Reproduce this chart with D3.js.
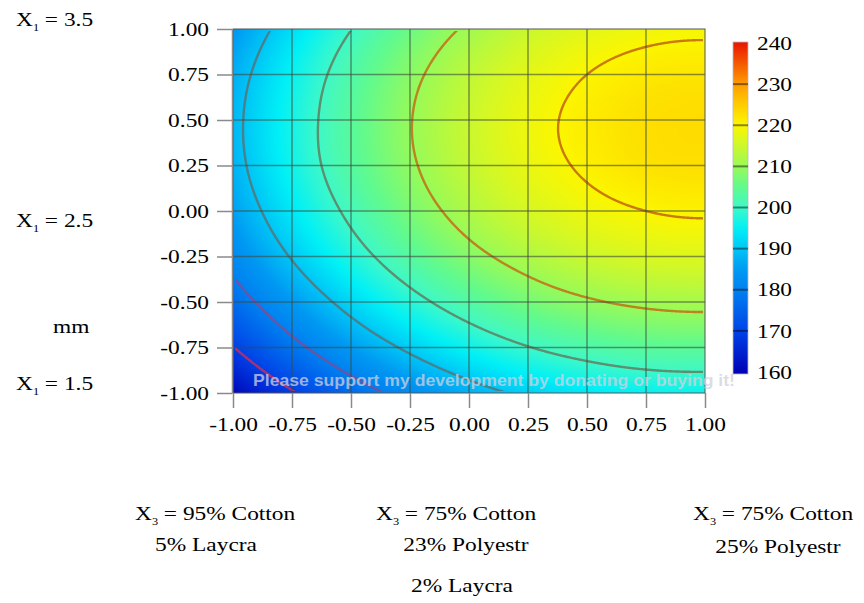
<!DOCTYPE html>
<html>
<head>
<meta charset="utf-8">
<title>Contour</title>
<script src="https://cdn.jsdelivr.net/npm/d3@7/dist/d3.min.js"></script>
<style>
    body { margin: 0; background: #fff; }
    svg text { font-family: "Liberation Serif", "Times New Roman", serif; }
</style>
</head>
<body>
<script>
    // values read at the grid intersections, rows from y = 1.00 (top) to y = -1.00
    var xTicks = [-1, -0.75, -0.5, -0.25, 0, 0.25, 0.5, 0.75, 1];
    var yTicks = [1, 0.75, 0.5, 0.25, 0, -0.25, -0.5, -0.75, -1];
    var zRows = [
        [184.6, 192.8, 199.9, 205.9, 210.8, 214.6, 217.2, 218.7, 219.2],
        [187.4, 195.6, 202.7, 208.7, 213.6, 217.3, 220.0, 221.5, 221.9],
        [188.5, 196.7, 203.8, 209.8, 214.7, 218.5, 221.1, 222.6, 223.1],
        [188.0, 196.3, 203.4, 209.3, 214.2, 218.0, 220.6, 222.2, 222.6],
        [185.9, 194.1, 201.2, 207.2, 212.1, 215.9, 218.5, 220.0, 220.5],
        [182.2, 190.4, 197.5, 203.5, 208.4, 212.1, 214.8, 216.3, 216.7],
        [176.8, 185.0, 192.1, 198.1, 203.0, 206.8, 209.4, 210.9, 211.4],
        [169.8, 178.1, 185.2, 191.1, 196.0, 199.8, 202.4, 204.0, 204.4],
        [161.2, 169.4, 176.5, 182.5, 187.4, 191.2, 193.8, 195.3, 195.8]
    ];
    var contourLevels = [170, 180, 190, 200, 210, 220];
    var contourColors = ["#b8306a", "#74509c", "#4f7a82", "#5f8566", "#c0761c", "#c46c10"];
    var colorTicks = [160, 170, 180, 190, 200, 210, 220, 230, 240];

    var width = 864, height = 603;
    var plotL = 233, plotR = 705, plotT = 29, plotB = 393;
    var pw = plotR - plotL, ph = plotB - plotT;
    var stretch = 1.23; // the source picture is a little wider than tall in its lettering

    var svg = d3.select("body").append("svg")
        .attr("width", width)
        .attr("height", height);

    var x = d3.scaleLinear().domain([-1, 1]).range([plotL, plotR]);
    var y = d3.scaleLinear().domain([-1, 1]).range([plotB, plotT]);

    var color = d3.scaleLinear()
        .domain([160, 170, 180, 185, 190, 195, 200, 205, 210, 215, 220, 225, 230, 240])
        .range(["#0000b4", "#0040e6", "#0080f0", "#0098f2", "#00c4f6", "#00f0f6", "#3ef8c8", "#60fa8e",
                "#98fa58", "#ccf82c", "#fcf600", "#ffcc00", "#ff9a00", "#e81400"])
        .clamp(true);

    // smooth (Catmull-Rom) fill of the plot pixels from the grid
    var nx = xTicks.length, ny = yTicks.length;
    var E = [];
    for (var r = 0; r < ny + 2; r++) E.push(new Array(nx + 2));
    for (var r = 0; r < ny; r++) for (var c = 0; c < nx; c++) E[r + 1][c + 1] = zRows[r][c];
    for (var c = 1; c <= nx; c++) {
        E[0][c] = 3 * E[1][c] - 3 * E[2][c] + E[3][c];
        E[ny + 1][c] = 3 * E[ny][c] - 3 * E[ny - 1][c] + E[ny - 2][c];
    }
    for (var r = 0; r < ny + 2; r++) {
        E[r][0] = 3 * E[r][1] - 3 * E[r][2] + E[r][3];
        E[r][nx + 1] = 3 * E[r][nx] - 3 * E[r][nx - 1] + E[r][nx - 2];
    }
    function cr(t) {
        var t2 = t * t, t3 = t2 * t;
        return [(-t + 2 * t2 - t3) / 2, (2 - 5 * t2 + 3 * t3) / 2, (t + 4 * t2 - 3 * t3) / 2, (t3 - t2) / 2];
    }

    var step = xTicks[1] - xTicks[0];
    var canvas = document.createElement("canvas");
    canvas.width = pw; canvas.height = ph;
    var ctx = canvas.getContext("2d");
    var img = ctx.createImageData(pw, ph);
    var values = new Float64Array(pw * ph);
    for (var j = 0; j < ph; j++) {
        var v = (yTicks[0] - y.invert(plotT + j + 0.5)) / step;
        var j0 = Math.max(0, Math.min(ny - 2, Math.floor(v)));
        var wy = cr(v - j0);
        for (var i = 0; i < pw; i++) {
            var u = (x.invert(plotL + i + 0.5) - xTicks[0]) / step;
            var i0 = Math.max(0, Math.min(nx - 2, Math.floor(u)));
            var wx = cr(u - i0);
            var z = 0;
            for (var a = 0; a < 4; a++) {
                var row = E[j0 + a];
                z += wy[a] * (wx[0] * row[i0] + wx[1] * row[i0 + 1] + wx[2] * row[i0 + 2] + wx[3] * row[i0 + 3]);
            }
            values[j * pw + i] = z;
            var col = d3.rgb(color(z));
            var k = 4 * (j * pw + i);
            img.data[k] = col.r; img.data[k + 1] = col.g; img.data[k + 2] = col.b; img.data[k + 3] = 255;
        }
    }
    ctx.putImageData(img, 0, 0);

    svg.append("image")
        .attr("x", plotL).attr("y", plotT)
        .attr("width", pw).attr("height", ph)
        .attr("preserveAspectRatio", "none")
        .attr("href", canvas.toDataURL());

    svg.append("clipPath").attr("id", "inner")
        .append("rect")
        .attr("x", 2).attr("y", 2)
        .attr("width", pw - 4).attr("height", ph - 4);

    var contours = d3.contours().size([pw, ph]).thresholds(contourLevels)(values);
    svg.append("g")
        .attr("transform", "translate(" + plotL + "," + plotT + ")")
        .attr("clip-path", "url(#inner)")
        .selectAll("path")
        .data(contours).enter()
        .append("path")
        .attr("d", d3.geoPath())
        .attr("fill", "none")
        .attr("stroke", function (d) { return contourColors[contourLevels.indexOf(d.value)]; })
        .attr("stroke-width", 2.4)
        .attr("stroke-opacity", 0.9);

    // grid
    var grid = svg.append("g")
        .attr("stroke", "#3e4a3e")
        .attr("stroke-opacity", 0.6)
        .attr("stroke-width", 1.5);
    grid.selectAll(".vx").data(xTicks.slice(1, -1)).enter().append("line")
        .attr("x1", function (d) { return x(d); }).attr("x2", function (d) { return x(d); })
        .attr("y1", plotT).attr("y2", plotB);
    grid.selectAll(".hy").data(yTicks.slice(1, -1)).enter().append("line")
        .attr("y1", function (d) { return y(d); }).attr("y2", function (d) { return y(d); })
        .attr("x1", plotL).attr("x2", plotR);

    svg.append("rect")
        .attr("x", plotL).attr("y", plotT)
        .attr("width", pw).attr("height", ph)
        .attr("fill", "none")
        .attr("stroke", "#555")
        .attr("stroke-width", 1);

    // watermark
    svg.append("text")
        .attr("class", "wm")
        .attr("x", 253).attr("y", 386)
        .attr("textLength", 482)
        .attr("lengthAdjust", "spacingAndGlyphs")
        .style("font-family", "'Liberation Sans', Arial, sans-serif")
        .style("font-weight", "bold")
        .style("font-size", "17px")
        .attr("fill", "#d0d0e0")
        .attr("fill-opacity", 0.75)
        .text("Please support my development by donating or buying it!");

    // axes
    var fmt = d3.formatLocale({ decimal: ".", thousands: ",", grouping: [3], currency: ["", ""], minus: "-" }).format(".2f");
    var yAxis = svg.append("g")
        .attr("transform", "translate(" + (plotL - 1) + ",0)")
        .call(d3.axisLeft(y).tickValues(yTicks).tickFormat(fmt).tickSize(15).tickPadding(8).tickSizeOuter(0));
    var xAxis = svg.append("g")
        .attr("transform", "translate(0," + plotB + ")")
        .call(d3.axisBottom(x).tickValues(xTicks).tickFormat(fmt).tickSize(15).tickPadding(10).tickSizeOuter(0));
    xAxis.select(".domain").remove();
    [xAxis, yAxis].forEach(function (a) {
        a.attr("font-family", null).attr("font-size", null);
        a.selectAll("line, .domain").attr("stroke", "#8a8a8a").attr("stroke-width", 1.5);
        a.selectAll("text").style("font-size", "19px").attr("fill", "#000");
    });

    // colour bar
    var cy = d3.scaleLinear().domain([160, 240]).range([372, 43]);
    var grad = svg.append("defs").append("linearGradient")
        .attr("id", "bar").attr("x1", 0).attr("y1", 1).attr("x2", 0).attr("y2", 0);
    grad.selectAll("stop").data(d3.range(160, 241, 2)).enter().append("stop")
        .attr("offset", function (d) { return (d - 160) / 80; })
        .attr("stop-color", function (d) { return color(d); });
    svg.append("rect")
        .attr("x", 733).attr("y", 42)
        .attr("width", 15).attr("height", 332)
        .attr("fill", "url(#bar)")
        .attr("stroke", "#bbb")
        .attr("stroke-width", 0.8);
    svg.selectAll(".cbtick").data(colorTicks.slice(1, -1)).enter().append("line")
        .attr("x1", 733).attr("x2", 748)
        .attr("y1", function (d) { return cy(d); }).attr("y2", function (d) { return cy(d); })
        .attr("stroke", "#000").attr("stroke-opacity", 0.45).attr("stroke-width", 2);
    svg.selectAll(".cblabel").data(colorTicks).enter().append("text")
        .attr("x", 757)
        .attr("y", function (d) { return cy(d); })
        .attr("dy", "0.35em")
        .style("font-size", "19px")
        .text(function (d) { return d; });

    // side and bottom notes
    function subLabel(xp, yp, sub, rest) {
        var t = svg.append("text").attr("x", xp).attr("y", yp).style("font-size", "19px");
        t.append("tspan").text("X");
        t.append("tspan").attr("dy", 5).style("font-size", "10px").text(sub);
        t.append("tspan").attr("dy", -5).text(rest);
    }
    subLabel(16, 26, "1", " = 3.5");
    subLabel(16, 227, "1", " = 2.5");
    subLabel(16, 390, "1", " = 1.5");
    svg.append("text").attr("x", 53).attr("y", 333).style("font-size", "19px").text("mm");

    subLabel(135, 520, "3", " = 95% Cotton");
    subLabel(376, 520, "3", " = 75% Cotton");
    subLabel(693, 520, "3", " = 75% Cotton");

    var notes = [
        { t: "5% Laycra", x: 206, y: 551 },
        { t: "23% Polyestr", x: 466, y: 551 },
        { t: "2% Laycra", x: 462, y: 592 },
        { t: "25% Polyestr", x: 778, y: 553 }
    ];
    svg.selectAll(".note").data(notes).enter().append("text")
        .attr("x", function (d) { return d.x; })
        .attr("y", function (d) { return d.y; })
        .attr("text-anchor", "middle")
        .style("font-size", "19px")
        .text(function (d) { return d.t; });

    // widen the lettering to match the source
    svg.selectAll("text").filter(function () { return this.getAttribute("class") !== "wm"; })
        .each(function () {
            var w = this.getComputedTextLength();
            d3.select(this).attr("textLength", w * stretch).attr("lengthAdjust", "spacingAndGlyphs");
        });
</script>
</body>
</html>
